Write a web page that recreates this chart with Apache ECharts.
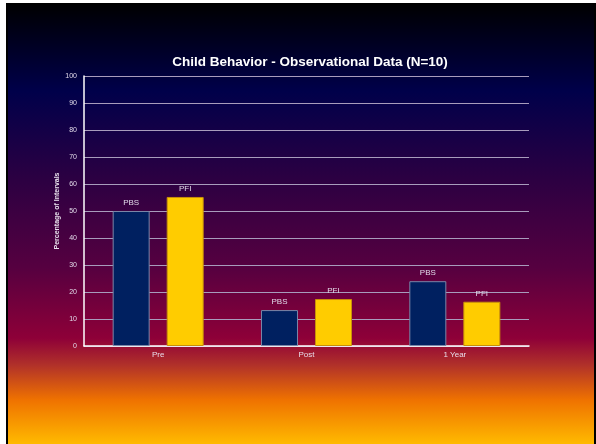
<!DOCTYPE html>
<html>
<head>
<meta charset="utf-8">
<script src="https://cdn.jsdelivr.net/npm/echarts@6/dist/echarts.min.js"></script>
<style>
html,body{margin:0;padding:0;background:#fff;width:596px;height:444px;overflow:hidden;}
#chart{position:absolute;left:6px;top:3px;width:586px;height:441px;border-left:2px solid #000;border-right:2px solid #000;}
</style>
</head>
<body>
<div id="chart"></div>
<script>
var categories = ['Pre', 'Post', '1 Year'];
var pbsValues = [50, 13.3, 24];
var pfiValues = [55.2, 17.4, 16.4];
var seriesNames = ['PBS', 'PFI'];
var yTicks = [0, 10, 20, 30, 40, 50, 60, 70, 80, 90, 100];

var chart = echarts.init(document.getElementById('chart'));
var labelStyle = {show: true, position: 'top', distance: 4, color: '#e0d8e8', fontSize: 8, fontFamily: 'Liberation Sans, Arial, sans-serif', formatter: function (p) { return p.seriesName; }};
chart.setOption({
  backgroundColor: new echarts.graphic.LinearGradient(0, 0, 0, 1, [
    {offset: 0, color: '#000000'},
    {offset: 0.2, color: '#00004a'},
    {offset: 0.4, color: '#2c0042'},
    {offset: 0.6, color: '#560040'},
    {offset: 0.76, color: '#8e0038'},
    {offset: 0.82, color: '#b0302a'},
    {offset: 0.9, color: '#ef7200'},
    {offset: 1, color: '#ffba00'}
  ]),
  title: {
    text: 'Child Behavior - Observational Data (N=10)',
    left: 297, top: 47, textAlign: 'center',
    textStyle: {color: '#ffffff', fontSize: 13.5, fontWeight: 'bold', fontFamily: 'Liberation Sans, Arial, sans-serif'}
  },
  grid: {left: 76, right: 65, top: 73, bottom: 98, containLabel: false},
  xAxis: {
    type: 'category', data: categories,
    axisLine: {lineStyle: {color: '#ffffff', width: 1.5}},
    axisTick: {show: false},
    axisLabel: {color: '#e8dce8', fontSize: 8, margin: 5, fontFamily: 'Liberation Sans, Arial, sans-serif'}
  },
  yAxis: {
    type: 'value', min: 0, max: 100, interval: 10,
    name: 'Percentage of Intervals', nameLocation: 'middle', nameGap: 23, nameRotate: 90,
    nameMoveOverlap: false,
    nameTextStyle: {color: '#e8e0ec', fontSize: 7, fontWeight: 'bold', fontFamily: 'Liberation Sans, Arial, sans-serif'},
    axisLine: {show: true, lineStyle: {color: '#ffffff', width: 1.5}},
    axisTick: {show: false},
    axisLabel: {color: '#e0d8e8', fontSize: 7, margin: 7, fontFamily: 'Liberation Sans, Arial, sans-serif',
      formatter: function (v) { return yTicks.indexOf(v) >= 0 ? String(v) : ''; }},
    splitLine: {lineStyle: {color: '#a89cbc', width: 1}}
  },
  series: [
    {name: seriesNames[0], type: 'bar', data: pbsValues, barWidth: 37, barGap: '46%',
      itemStyle: {color: '#002060', borderColor: '#7a86a8', borderWidth: 1}, label: labelStyle},
    {name: seriesNames[1], type: 'bar', data: pfiValues, barWidth: 37,
      itemStyle: {color: '#ffcc00', borderColor: '#c8900a', borderWidth: 1}, label: labelStyle}
  ],
  animation: false
});
</script>
</body>
</html>
